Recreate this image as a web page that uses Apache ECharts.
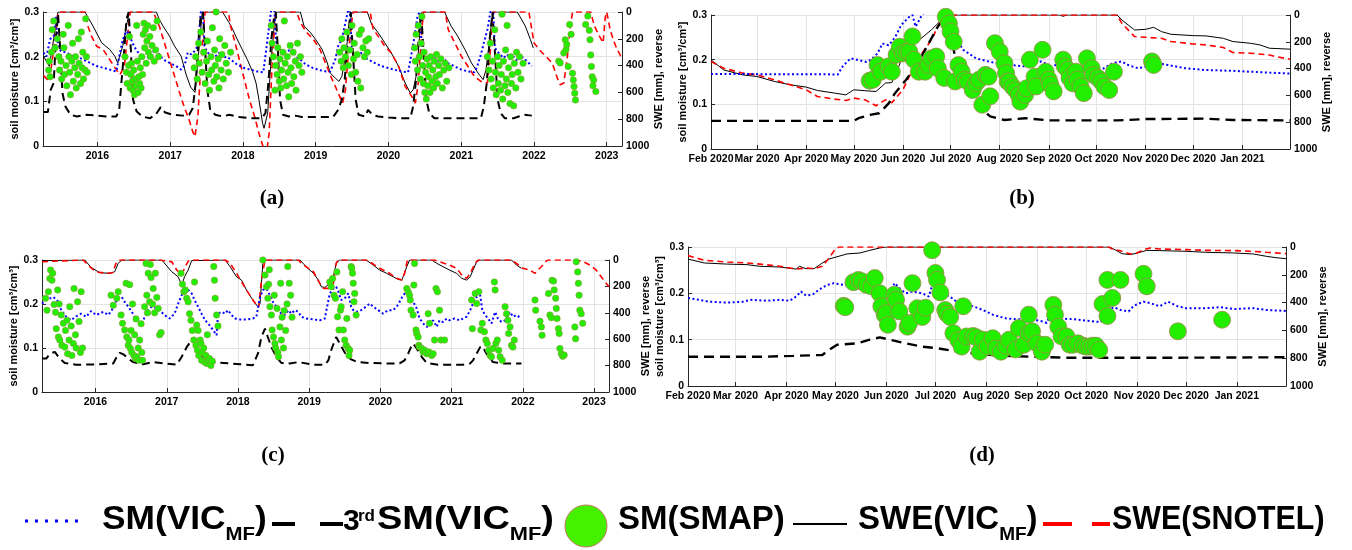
<!DOCTYPE html>
<html>
<head>
<meta charset="utf-8">
<script src="https://cdn.jsdelivr.net/npm/echarts@6/dist/echarts.min.js"></script>
<style>
  html, body { margin: 0; padding: 0; background: #fff; }
  #chart { width: 1352px; height: 550px; }
</style>
</head>
<body>
<div id="chart"></div>
<script>
// ---- data: panels (a) and (c) use decimal years, (b) and (d) use dates ----

// (a)
const sweVicA = [[2015.26,330],[2015.34,405],[2015.4,200],[2015.44,55],[2015.46,0],[2015.83,0],[2015.94,105],[2016.06,230],[2016.17,280],[2016.24,330],[2016.28,380],[2016.35,250],[2016.4,100],[2016.44,0],[2016.81,0],[2016.85,55],[2016.9,105],[2016.99,180],[2017.06,255],[2017.15,330],[2017.22,470],[2017.28,560],[2017.34,600],[2017.4,250],[2017.44,0],[2017.72,0],[2017.81,80],[2017.86,130],[2017.9,180],[2017.99,280],[2018.06,355],[2018.13,443],[2018.18,530],[2018.22,655],[2018.27,830],[2018.29,868],[2018.34,755],[2018.38,405],[2018.43,105],[2018.45,0],[2018.79,0],[2018.84,105],[2018.93,155],[2019.0,205],[2019.09,280],[2019.16,380],[2019.2,455],[2019.27,493],[2019.32,518],[2019.36,480],[2019.41,330],[2019.45,155],[2019.5,0],[2019.71,0],[2019.77,93],[2019.86,155],[2019.95,230],[2020.04,305],[2020.14,405],[2020.23,530],[2020.3,605],[2020.34,580],[2020.39,455],[2020.43,155],[2020.46,0],[2020.77,0],[2020.86,105],[2020.95,180],[2021.05,280],[2021.14,380],[2021.23,455],[2021.3,505],[2021.34,430],[2021.39,205],[2021.43,0],[2021.77,0],[2021.88,105],[2021.95,205],[2021.99,268]];
const sweSnotelA = [[2015.26,475],[2015.34,518],[2015.4,280],[2015.46,0],[2015.84,0],[2015.87,105],[2015.92,180],[2015.99,255],[2016.08,280],[2016.17,355],[2016.26,430],[2016.31,468],[2016.37,405],[2016.42,155],[2016.45,0],[2016.77,0],[2016.81,55],[2016.85,105],[2016.92,230],[2016.99,355],[2017.06,480],[2017.13,605],[2017.19,705],[2017.26,805],[2017.31,893],[2017.34,930],[2017.38,780],[2017.42,405],[2017.46,105],[2017.48,0],[2017.8,0],[2017.83,105],[2017.88,205],[2017.95,355],[2018.02,505],[2018.09,655],[2018.16,780],[2018.22,905],[2018.27,993],[2018.3,1060],[2018.33,1030],[2018.36,905],[2018.4,405],[2018.44,55],[2018.46,0],[2018.74,0],[2018.79,80],[2018.88,155],[2018.97,205],[2019.06,280],[2019.15,400],[2019.2,470],[2019.27,555],[2019.33,630],[2019.37,680],[2019.41,580],[2019.45,305],[2019.5,55],[2019.52,0],[2019.75,0],[2019.79,130],[2019.86,180],[2019.95,255],[2020.04,305],[2020.14,405],[2020.23,555],[2020.32,630],[2020.37,680],[2020.41,530],[2020.45,205],[2020.48,0],[2020.78,0],[2020.82,130],[2020.91,230],[2021.0,330],[2021.09,405],[2021.18,480],[2021.27,518],[2021.36,530],[2021.4,280],[2021.43,0],[2021.93,0],[2022.0,230],[2022.07,280],[2022.16,330],[2022.25,380],[2022.32,493],[2022.36,543],[2022.41,530],[2022.46,330],[2022.5,105],[2022.53,0],[2022.78,0],[2022.83,105],[2022.9,180],[2022.95,230],[2022.98,40],[2023.0,0],[2023.05,140],[2023.12,250],[2023.21,350]];
const smVicA = [[2015.26,0.209],[2015.3,0.2],[2015.35,0.239],[2015.4,0.246],[2015.43,0.29],[2015.46,0.224],[2015.5,0.212],[2015.58,0.209],[2015.67,0.2],[2015.76,0.197],[2015.85,0.19],[2015.99,0.179],[2016.08,0.175],[2016.17,0.171],[2016.26,0.167],[2016.3,0.2],[2016.35,0.239],[2016.4,0.257],[2016.44,0.25],[2016.48,0.231],[2016.53,0.216],[2016.58,0.205],[2016.62,0.197],[2016.67,0.2],[2016.72,0.197],[2016.76,0.209],[2016.81,0.216],[2016.85,0.205],[2016.9,0.194],[2016.99,0.186],[2017.08,0.179],[2017.15,0.171],[2017.2,0.182],[2017.24,0.209],[2017.29,0.205],[2017.33,0.212],[2017.38,0.224],[2017.42,0.3],[2017.45,0.3],[2017.47,0.224],[2017.51,0.209],[2017.56,0.205],[2017.62,0.2],[2017.67,0.209],[2017.72,0.197],[2017.78,0.2],[2017.83,0.194],[2017.92,0.182],[2018.01,0.175],[2018.1,0.171],[2018.19,0.167],[2018.28,0.165],[2018.32,0.216],[2018.36,0.269],[2018.39,0.306],[2018.43,0.31],[2018.46,0.224],[2018.5,0.216],[2018.59,0.212],[2018.68,0.216],[2018.73,0.2],[2018.78,0.194],[2018.87,0.182],[2018.96,0.175],[2019.05,0.17],[2019.14,0.167],[2019.2,0.167],[2019.27,0.194],[2019.31,0.224],[2019.36,0.239],[2019.4,0.269],[2019.44,0.3],[2019.47,0.306],[2019.5,0.209],[2019.54,0.205],[2019.59,0.2],[2019.63,0.209],[2019.68,0.197],[2019.72,0.194],[2019.81,0.186],[2019.9,0.179],[2019.99,0.175],[2020.08,0.171],[2020.17,0.167],[2020.27,0.165],[2020.31,0.2],[2020.36,0.246],[2020.4,0.291],[2020.43,0.3],[2020.46,0.216],[2020.5,0.2],[2020.56,0.194],[2020.63,0.197],[2020.68,0.19],[2020.72,0.197],[2020.77,0.194],[2020.81,0.186],[2020.9,0.179],[2021.0,0.171],[2021.09,0.167],[2021.18,0.165],[2021.22,0.179],[2021.27,0.205],[2021.31,0.231],[2021.36,0.261],[2021.4,0.3],[2021.44,0.3],[2021.46,0.22],[2021.51,0.209],[2021.58,0.197],[2021.63,0.205],[2021.67,0.194],[2021.72,0.2],[2021.77,0.19],[2021.81,0.2],[2021.86,0.197],[2021.9,0.19],[2021.97,0.179]];
const sm3rdA = [[2015.26,0.076],[2015.32,0.076],[2015.36,0.126],[2015.4,0.141],[2015.43,0.239],[2015.46,0.295],[2015.49,0.216],[2015.52,0.119],[2015.56,0.089],[2015.63,0.07],[2015.72,0.066],[2015.85,0.07],[2015.99,0.068],[2016.12,0.066],[2016.26,0.066],[2016.3,0.081],[2016.33,0.141],[2016.37,0.216],[2016.4,0.284],[2016.43,0.3],[2016.46,0.216],[2016.49,0.104],[2016.54,0.077],[2016.62,0.066],[2016.72,0.062],[2016.8,0.07],[2016.87,0.087],[2016.93,0.075],[2017.03,0.07],[2017.17,0.068],[2017.26,0.07],[2017.31,0.085],[2017.35,0.141],[2017.39,0.239],[2017.42,0.291],[2017.45,0.3],[2017.48,0.216],[2017.51,0.126],[2017.55,0.081],[2017.62,0.07],[2017.72,0.066],[2017.81,0.07],[2017.95,0.065],[2018.1,0.062],[2018.26,0.062],[2018.31,0.074],[2018.35,0.141],[2018.39,0.239],[2018.43,0.291],[2018.45,0.3],[2018.48,0.216],[2018.51,0.104],[2018.55,0.07],[2018.63,0.066],[2018.72,0.068],[2018.81,0.065],[2018.99,0.065],[2019.24,0.065],[2019.31,0.081],[2019.36,0.104],[2019.4,0.149],[2019.44,0.239],[2019.48,0.3],[2019.51,0.216],[2019.55,0.104],[2019.59,0.07],[2019.68,0.066],[2019.72,0.081],[2019.78,0.07],[2019.86,0.066],[2020.0,0.064],[2020.18,0.062],[2020.3,0.062],[2020.34,0.089],[2020.38,0.149],[2020.42,0.254],[2020.45,0.3],[2020.48,0.216],[2020.52,0.104],[2020.56,0.074],[2020.63,0.062],[2020.86,0.062],[2021.09,0.062],[2021.27,0.062],[2021.31,0.089],[2021.35,0.141],[2021.39,0.239],[2021.43,0.3],[2021.46,0.216],[2021.5,0.104],[2021.54,0.074],[2021.6,0.062],[2021.72,0.062],[2021.79,0.066],[2021.86,0.07],[2021.97,0.068]];
const smapA = [[2015.33,0.17],[2015.34,0.19],[2015.35,0.155],[2015.37,0.21],[2015.38,0.26],[2015.4,0.28],[2015.42,0.22],[2015.45,0.24],[2015.47,0.2],[2015.48,0.17],[2015.5,0.19],[2015.51,0.15],[2015.53,0.25],[2015.54,0.22],[2015.55,0.16],[2015.57,0.18],[2015.58,0.135],[2015.6,0.27],[2015.61,0.2],[2015.62,0.165],[2015.63,0.115],[2015.65,0.19],[2015.66,0.23],[2015.67,0.145],[2015.69,0.175],[2015.7,0.2],[2015.71,0.13],[2015.73,0.16],[2015.74,0.24],[2015.75,0.185],[2015.77,0.14],[2015.78,0.255],[2015.79,0.175],[2015.8,0.21],[2015.81,0.15],[2015.83,0.17],[2015.84,0.285],[2015.85,0.2],[2015.86,0.165],
  [2016.38,0.2],[2016.4,0.165],[2016.41,0.14],[2016.43,0.18],[2016.44,0.245],[2016.45,0.13],[2016.46,0.16],[2016.47,0.185],[2016.48,0.145],[2016.49,0.125],[2016.5,0.17],[2016.51,0.115],[2016.52,0.15],[2016.53,0.135],[2016.54,0.27],[2016.55,0.19],[2016.56,0.12],[2016.57,0.155],[2016.58,0.14],[2016.59,0.175],[2016.6,0.13],[2016.61,0.2],[2016.62,0.16],[2016.63,0.25],[2016.64,0.275],[2016.65,0.22],[2016.66,0.26],[2016.67,0.185],[2016.68,0.235],[2016.69,0.27],[2016.7,0.21],[2016.72,0.245],[2016.73,0.2],[2016.75,0.225],[2016.77,0.265],[2016.78,0.19],[2016.8,0.215],[2016.82,0.28],[2016.84,0.2],
  [2017.33,0.175],[2017.35,0.2],[2017.37,0.15],[2017.39,0.23],[2017.4,0.185],[2017.42,0.255],[2017.44,0.165],[2017.46,0.21],[2017.48,0.14],[2017.5,0.19],[2017.51,0.235],[2017.53,0.16],[2017.54,0.125],[2017.56,0.2],[2017.57,0.17],[2017.58,0.265],[2017.6,0.145],[2017.61,0.215],[2017.62,0.18],[2017.63,0.3],[2017.64,0.155],[2017.66,0.195],[2017.67,0.13],[2017.68,0.24],[2017.7,0.17],[2017.71,0.205],[2017.73,0.15],[2017.75,0.225],[2017.77,0.185],[2017.8,0.165],[2017.83,0.21],
  [2018.39,0.27],[2018.4,0.23],[2018.42,0.2],[2018.44,0.125],[2018.45,0.18],[2018.47,0.16],[2018.48,0.22],[2018.5,0.145],[2018.51,0.195],[2018.52,0.13],[2018.53,0.17],[2018.55,0.21],[2018.56,0.15],[2018.57,0.28],[2018.58,0.185],[2018.6,0.135],[2018.61,0.2],[2018.62,0.165],[2018.63,0.11],[2018.65,0.225],[2018.66,0.175],[2018.67,0.14],[2018.69,0.21],[2018.7,0.155],[2018.72,0.19],[2018.73,0.125],[2018.75,0.23],[2018.77,0.18],[2018.79,0.2],[2018.81,0.165],
  [2019.33,0.21],[2019.35,0.19],[2019.36,0.24],[2019.38,0.175],[2019.39,0.22],[2019.41,0.2],[2019.43,0.255],[2019.45,0.18],[2019.47,0.215],[2019.49,0.16],[2019.5,0.27],[2019.52,0.195],[2019.53,0.23],[2019.55,0.165],[2019.57,0.205],[2019.58,0.145],[2019.6,0.25],[2019.62,0.13],[2019.63,0.26],[2019.65,0.22],[2019.67,0.2],[2019.69,0.235],[2019.71,0.21],[2019.73,0.24],
  [2020.36,0.22],[2020.37,0.19],[2020.38,0.25],[2020.4,0.17],[2020.41,0.27],[2020.43,0.2],[2020.44,0.15],[2020.45,0.23],[2020.46,0.29],[2020.47,0.18],[2020.48,0.14],[2020.49,0.21],[2020.5,0.12],[2020.51,0.165],[2020.52,0.105],[2020.53,0.195],[2020.54,0.135],[2020.55,0.155],[2020.56,0.18],[2020.57,0.12],[2020.58,0.2],[2020.6,0.145],[2020.61,0.17],[2020.62,0.13],[2020.63,0.19],[2020.65,0.155],[2020.66,0.205],[2020.67,0.14],[2020.69,0.18],[2020.7,0.16],[2020.72,0.195],[2020.74,0.13],[2020.76,0.17],[2020.78,0.185],[2020.8,0.145],[2020.83,0.175],
  [2021.36,0.2],[2021.38,0.17],[2021.4,0.23],[2021.41,0.15],[2021.43,0.19],[2021.44,0.13],[2021.46,0.26],[2021.47,0.165],[2021.48,0.115],[2021.5,0.2],[2021.51,0.14],[2021.52,0.18],[2021.54,0.125],[2021.55,0.16],[2021.56,0.295],[2021.57,0.105],[2021.58,0.19],[2021.6,0.135],[2021.61,0.215],[2021.62,0.15],[2021.63,0.27],[2021.64,0.12],[2021.65,0.175],[2021.67,0.095],[2021.68,0.2],[2021.69,0.14],[2021.7,0.16],[2021.72,0.09],[2021.73,0.185],[2021.75,0.13],[2021.76,0.21],[2021.78,0.165],[2021.8,0.2],[2021.82,0.15],[2021.85,0.185],
  [2022.34,0.19],[2022.36,0.186],[2022.41,0.208],[2022.43,0.238],[2022.44,0.216],[2022.45,0.227],[2022.47,0.178],[2022.49,0.272],[2022.51,0.25],[2022.53,0.163],[2022.54,0.148],[2022.55,0.133],[2022.56,0.118],[2022.57,0.103],
  [2022.71,0.272],[2022.74,0.291],[2022.76,0.259],[2022.77,0.238],[2022.78,0.204],[2022.79,0.178],[2022.8,0.155],[2022.81,0.135],[2022.82,0.148],[2022.85,0.122]];

// (b)
const sweVicB = [['2020-02-01',335],['2020-02-09',410],['2020-02-21',447],['2020-03-01',459],['2020-03-12',496],['2020-03-22',521],['2020-04-01',538],['2020-04-08',563],['2020-04-19',583],['2020-04-26',596],['2020-05-01',558],['2020-05-08',565],['2020-05-15',571],['2020-05-21',508],['2020-05-25',505],['2020-06-01',310],['2020-06-07',220],['2020-06-13',170],['2020-06-19',110],['2020-06-25',40],['2020-07-01',0],['2020-09-08',0],['2020-09-10',10],['2020-09-12',0],['2020-10-14',0],['2020-10-17',37],['2020-10-25',112],['2020-11-01',107],['2020-11-06',92],['2020-11-11',124],['2020-11-17',144],['2020-12-01',154],['2020-12-09',156],['2020-12-20',174],['2020-12-26',198],['2021-01-06',211],['2021-01-12',223],['2021-01-18',248],['2021-01-31',255]];
const sweSnotelB = [['2020-02-01',347],['2020-02-09',397],['2020-02-21',434],['2020-03-01',447],['2020-03-12',484],['2020-03-22',521],['2020-04-01',558],['2020-04-08',608],['2020-04-19',628],['2020-04-26',638],['2020-05-01',620],['2020-05-08',633],['2020-05-15',677],['2020-05-21',633],['2020-05-25',655],['2020-06-01',558],['2020-06-07',410],['2020-06-13',285],['2020-06-19',186],['2020-06-25',37],['2020-07-01',0],['2020-10-14',0],['2020-10-17',62],['2020-10-25',161],['2020-11-01',166],['2020-11-11',174],['2020-11-17',198],['2020-12-01',216],['2020-12-09',223],['2020-12-20',243],['2020-12-26',280],['2021-01-06',285],['2021-01-18',298],['2021-01-22',310],['2021-01-31',330]];
const smVicB = [['2020-02-01',0.168],['2020-04-21',0.167],['2020-04-24',0.185],['2020-04-29',0.203],['2020-05-04',0.199],['2020-05-09',0.195],['2020-05-12',0.2],['2020-05-16',0.214],['2020-05-19',0.236],['2020-05-23',0.232],['2020-05-27',0.25],['2020-05-31',0.278],['2020-06-05',0.296],['2020-06-07',0.3],['2020-06-09',0.274],['2020-06-13',0.3],['2020-06-20',0.33],['2020-06-28',0.34],['2020-07-03',0.27],['2020-07-05',0.244],['2020-07-09',0.222],['2020-07-17',0.203],['2020-07-26',0.195],['2020-08-02',0.19],['2020-08-17',0.185],['2020-08-21',0.192],['2020-08-27',0.196],['2020-09-01',0.188],['2020-09-02',0.181],['2020-09-07',0.192],['2020-09-11',0.177],['2020-09-19',0.185],['2020-09-23',0.181],['2020-10-02',0.173],['2020-10-11',0.192],['2020-10-17',0.196],['2020-10-21',0.188],['2020-10-27',0.181],['2020-11-03',0.185],['2020-11-09',0.192],['2020-11-15',0.188],['2020-11-26',0.181],['2020-12-08',0.177],['2020-12-26',0.175],['2021-01-06',0.173],['2021-01-18',0.171],['2021-01-31',0.169]];
const sm3rdB = [['2020-02-01',0.063],['2020-05-01',0.063],['2020-05-04',0.069],['2020-05-12',0.077],['2020-05-17',0.08],['2020-05-23',0.102],['2020-05-27',0.125],['2020-06-03',0.155],['2020-06-09',0.185],['2020-06-15',0.222],['2020-06-19',0.248],['2020-06-23',0.274],['2020-06-27',0.293],['2020-06-30',0.3],['2020-07-01',0.263],['2020-07-03',0.222],['2020-07-05',0.184],['2020-07-09',0.155],['2020-07-12',0.132],['2020-07-15',0.11],['2020-07-21',0.088],['2020-07-26',0.073],['2020-08-04',0.065],['2020-08-17',0.069],['2020-09-01',0.064],['2020-10-14',0.064],['2020-11-01',0.067],['2020-12-08',0.068],['2020-12-26',0.065],['2021-01-31',0.064]];
const smapB = [['2020-05-11',0.153],['2020-05-13',0.155],['2020-05-16',0.188],['2020-05-18',0.173],['2020-05-23',0.185],['2020-05-25',0.173],['2020-05-28',0.211],['2020-05-30',0.229],['2020-06-01',0.214],['2020-06-03',0.218],['2020-06-05',0.218],['2020-06-07',0.252],['2020-06-08',0.2],['2020-06-11',0.173],['2020-06-15',0.173],['2020-06-17',0.188],['2020-06-19',0.203],['2020-06-22',0.207],['2020-06-23',0.181],['2020-06-27',0.159],['2020-06-28',0.296],['2020-06-30',0.281],['2020-07-01',0.263],['2020-07-03',0.24],['2020-07-04',0.151],['2020-07-06',0.188],['2020-07-08',0.173],['2020-07-10',0.155],['2020-07-12',0.151],['2020-07-15',0.132],['2020-07-17',0.147],['2020-07-19',0.155],['2020-07-21',0.099],['2020-07-23',0.166],['2020-07-25',0.162],['2020-07-26',0.118],['2020-07-29',0.237],['2020-08-01',0.218],['2020-08-04',0.192],['2020-08-05',0.17],['2020-08-06',0.151],['2020-08-07',0.151],['2020-08-09',0.14],['2020-08-11',0.132],['2020-08-13',0.121],['2020-08-14',0.106],['2020-08-17',0.121],['2020-08-18',0.136],['2020-08-20',0.2],['2020-08-23',0.162],['2020-08-24',0.14],['2020-08-28',0.222],['2020-08-30',0.173],['2020-09-01',0.155],['2020-09-02',0.144],['2020-09-04',0.129],['2020-09-10',0.2],['2020-09-11',0.185],['2020-09-13',0.177],['2020-09-14',0.159],['2020-09-16',0.147],['2020-09-18',0.173],['2020-09-19',0.155],['2020-09-21',0.14],['2020-09-23',0.125],['2020-09-25',0.203],['2020-09-28',0.181],['2020-09-29',0.166],['2020-10-02',0.159],['2020-10-04',0.151],['2020-10-06',0.14],['2020-10-09',0.132],['2020-10-12',0.173],['2020-11-05',0.196],['2020-11-06',0.188]];

// (c)
const sweVicC = [[2015.25,5],[2015.27,0],[2015.85,0],[2015.94,56],[2016.06,96],[2016.2,101],[2016.27,89],[2016.32,25],[2016.37,0],[2016.93,0],[2016.95,13],[2017.07,89],[2017.16,127],[2017.21,190],[2017.25,127],[2017.3,76],[2017.35,5],[2017.37,0],[2017.82,0],[2017.89,51],[2017.98,127],[2018.05,152],[2018.12,228],[2018.21,304],[2018.28,354],[2018.31,330],[2018.35,25],[2018.4,0],[2018.87,0],[2018.96,51],[2019.06,101],[2019.13,152],[2019.17,203],[2019.22,208],[2019.29,177],[2019.34,127],[2019.38,25],[2019.43,0],[2019.8,0],[2019.9,38],[2019.99,76],[2020.09,101],[2020.18,127],[2020.25,147],[2020.3,152],[2020.32,127],[2020.37,51],[2020.41,0],[2020.72,0],[2020.79,25],[2020.88,51],[2020.97,76],[2021.07,101],[2021.14,139],[2021.21,152],[2021.26,127],[2021.3,76],[2021.35,13],[2021.4,0],[2021.84,0],[2021.91,38],[2021.98,63]];
const sweSnotelC = [[2015.25,13],[2015.27,0],[2015.83,0],[2015.92,51],[2016.01,89],[2016.15,101],[2016.24,96],[2016.29,25],[2016.33,0],[2016.9,0],[2017.07,13],[2017.14,76],[2017.21,114],[2017.25,60],[2017.3,10],[2017.33,0],[2017.82,0],[2017.89,25],[2017.98,101],[2018.12,228],[2018.26,342],[2018.29,360],[2018.33,152],[2018.38,0],[2018.85,0],[2018.89,25],[2019.06,89],[2019.15,177],[2019.2,215],[2019.27,215],[2019.34,177],[2019.38,25],[2019.41,0],[2019.8,0],[2019.85,13],[2019.99,63],[2020.13,101],[2020.23,139],[2020.3,152],[2020.34,101],[2020.38,0],[2020.76,0],[2020.83,13],[2020.97,38],[2021.07,63],[2021.16,127],[2021.21,139],[2021.26,101],[2021.33,25],[2021.37,0],[2021.84,0],[2021.91,25],[2022.0,63],[2022.1,76],[2022.17,101],[2022.21,76],[2022.26,51],[2022.32,13],[2022.35,0],[2022.75,0],[2022.85,13],[2022.94,38],[2023.03,76],[2023.1,127],[2023.17,177],[2023.21,203]];
const smVicC = [[2015.25,0.201],[2015.31,0.209],[2015.41,0.216],[2015.48,0.205],[2015.52,0.186],[2015.59,0.171],[2015.66,0.163],[2015.73,0.172],[2015.8,0.178],[2015.87,0.171],[2015.94,0.184],[2016.01,0.175],[2016.11,0.182],[2016.18,0.175],[2016.23,0.186],[2016.27,0.201],[2016.32,0.213],[2016.37,0.216],[2016.41,0.205],[2016.46,0.194],[2016.51,0.182],[2016.55,0.171],[2016.6,0.163],[2016.65,0.152],[2016.69,0.171],[2016.74,0.186],[2016.79,0.194],[2016.86,0.19],[2016.9,0.186],[2016.95,0.178],[2017.0,0.171],[2017.04,0.167],[2017.11,0.178],[2017.16,0.201],[2017.21,0.22],[2017.25,0.228],[2017.3,0.232],[2017.35,0.224],[2017.39,0.209],[2017.44,0.194],[2017.49,0.178],[2017.54,0.163],[2017.58,0.156],[2017.65,0.141],[2017.7,0.129],[2017.72,0.178],[2017.77,0.182],[2017.82,0.178],[2017.86,0.186],[2017.91,0.175],[2017.96,0.167],[2018.03,0.165],[2018.12,0.165],[2018.21,0.167],[2018.26,0.171],[2018.3,0.209],[2018.35,0.232],[2018.4,0.235],[2018.45,0.22],[2018.49,0.205],[2018.54,0.194],[2018.61,0.178],[2018.66,0.175],[2018.71,0.186],[2018.75,0.178],[2018.8,0.186],[2018.85,0.182],[2018.89,0.171],[2018.96,0.167],[2019.06,0.165],[2019.15,0.163],[2019.22,0.167],[2019.29,0.224],[2019.34,0.235],[2019.38,0.239],[2019.41,0.228],[2019.45,0.209],[2019.5,0.213],[2019.55,0.224],[2019.59,0.194],[2019.62,0.186],[2019.66,0.182],[2019.73,0.186],[2019.8,0.194],[2019.85,0.201],[2019.9,0.194],[2019.97,0.186],[2020.04,0.178],[2020.11,0.186],[2020.18,0.186],[2020.23,0.194],[2020.27,0.205],[2020.32,0.22],[2020.37,0.228],[2020.41,0.213],[2020.46,0.205],[2020.51,0.19],[2020.55,0.167],[2020.6,0.156],[2020.65,0.148],[2020.69,0.152],[2020.74,0.163],[2020.79,0.148],[2020.83,0.163],[2020.88,0.159],[2020.93,0.167],[2020.97,0.163],[2021.04,0.167],[2021.11,0.163],[2021.16,0.167],[2021.21,0.171],[2021.26,0.186],[2021.3,0.201],[2021.35,0.216],[2021.4,0.22],[2021.43,0.186],[2021.47,0.175],[2021.51,0.167],[2021.56,0.156],[2021.61,0.182],[2021.65,0.167],[2021.7,0.159],[2021.75,0.163],[2021.82,0.182],[2021.86,0.171],[2021.91,0.175],[2021.98,0.167]];
const sm3rdC = [[2015.25,0.076],[2015.31,0.076],[2015.36,0.087],[2015.43,0.091],[2015.5,0.076],[2015.57,0.066],[2015.73,0.062],[2016.06,0.063],[2016.25,0.065],[2016.3,0.08],[2016.34,0.089],[2016.39,0.086],[2016.46,0.076],[2016.53,0.068],[2016.67,0.063],[2016.81,0.068],[2016.95,0.065],[2017.14,0.062],[2017.21,0.08],[2017.28,0.102],[2017.35,0.118],[2017.39,0.11],[2017.46,0.087],[2017.54,0.072],[2017.65,0.067],[2017.8,0.066],[2018.03,0.063],[2018.21,0.061],[2018.28,0.087],[2018.33,0.125],[2018.38,0.144],[2018.42,0.125],[2018.47,0.102],[2018.54,0.08],[2018.61,0.066],[2018.73,0.065],[2018.85,0.068],[2019.06,0.062],[2019.22,0.062],[2019.27,0.072],[2019.32,0.1],[2019.38,0.125],[2019.43,0.11],[2019.52,0.084],[2019.59,0.074],[2019.68,0.068],[2019.85,0.066],[2020.04,0.065],[2020.27,0.065],[2020.34,0.072],[2020.39,0.087],[2020.43,0.102],[2020.46,0.11],[2020.51,0.099],[2020.58,0.08],[2020.65,0.066],[2020.81,0.062],[2021.16,0.062],[2021.26,0.065],[2021.3,0.072],[2021.35,0.087],[2021.4,0.102],[2021.43,0.104],[2021.49,0.087],[2021.58,0.068],[2021.7,0.065],[2021.98,0.065]];
const smapC = [[2015.3,0.213],[2015.32,0.186],[2015.34,0.228],[2015.36,0.258],[2015.37,0.277],[2015.39,0.254],[2015.4,0.27],[2015.42,0.199],[2015.44,0.181],[2015.45,0.144],[2015.47,0.232],[2015.48,0.125],[2015.49,0.2],[2015.5,0.118],[2015.52,0.175],[2015.53,0.106],[2015.55,0.156],[2015.57,0.102],[2015.58,0.14],[2015.6,0.163],[2015.61,0.087],[2015.63,0.118],[2015.64,0.194],[2015.66,0.15],[2015.67,0.083],[2015.69,0.11],[2015.7,0.235],[2015.72,0.13],[2015.73,0.1],[2015.75,0.205],[2015.77,0.16],[2015.79,0.09],[2015.8,0.228],[2015.82,0.1],
  [2016.22,0.22],[2016.25,0.197],[2016.3,0.213],[2016.32,0.228],[2016.36,0.175],[2016.38,0.156],[2016.41,0.141],[2016.43,0.247],[2016.44,0.125],[2016.46,0.106],[2016.47,0.118],[2016.48,0.244],[2016.49,0.099],[2016.5,0.14],[2016.51,0.09],[2016.52,0.2],[2016.54,0.083],[2016.55,0.13],[2016.56,0.076],[2016.57,0.166],[2016.58,0.08],[2016.6,0.1],[2016.61,0.072],[2016.62,0.118],[2016.64,0.155],[2016.65,0.09],[2016.66,0.072],[2016.69,0.194],[2016.71,0.292],[2016.72,0.22],[2016.73,0.18],[2016.74,0.27],[2016.76,0.205],[2016.77,0.29],[2016.78,0.26],[2016.8,0.2],[2016.81,0.235],[2016.83,0.18],[2016.84,0.27],[2016.86,0.215],[2016.88,0.19],[2016.9,0.13],[2016.92,0.135],
  [2017.2,0.27],[2017.22,0.245],[2017.24,0.228],[2017.26,0.232],[2017.28,0.213],[2017.3,0.205],[2017.32,0.178],[2017.34,0.163],[2017.36,0.14],[2017.38,0.118],[2017.39,0.25],[2017.41,0.106],[2017.42,0.152],[2017.43,0.095],[2017.44,0.14],[2017.45,0.083],[2017.47,0.118],[2017.48,0.11],[2017.49,0.072],[2017.5,0.09],[2017.52,0.1],[2017.53,0.068],[2017.55,0.083],[2017.56,0.065],[2017.57,0.13],[2017.58,0.072],[2017.6,0.076],[2017.62,0.06],[2017.64,0.07],[2017.66,0.285],[2017.67,0.254],[2017.68,0.213],[2017.7,0.175],[2017.72,0.15],
  [2018.35,0.3],[2018.38,0.266],[2018.4,0.239],[2018.42,0.213],[2018.43,0.245],[2018.44,0.278],[2018.45,0.194],[2018.47,0.175],[2018.48,0.141],[2018.5,0.125],[2018.51,0.22],[2018.52,0.11],[2018.53,0.1],[2018.55,0.19],[2018.56,0.09],[2018.57,0.08],[2018.59,0.148],[2018.6,0.247],[2018.61,0.118],[2018.62,0.17],[2018.64,0.1],[2018.65,0.185],[2018.67,0.14],[2018.69,0.2],[2018.7,0.285],[2018.72,0.247],[2018.74,0.22],[2018.76,0.17],
  [2019.29,0.25],[2019.31,0.239],[2019.33,0.258],[2019.35,0.22],[2019.37,0.213],[2019.39,0.273],[2019.4,0.171],[2019.42,0.141],[2019.44,0.186],[2019.45,0.194],[2019.47,0.228],[2019.48,0.141],[2019.5,0.118],[2019.52,0.106],[2019.53,0.167],[2019.55,0.099],[2019.56,0.083],[2019.57,0.095],[2019.59,0.285],[2019.6,0.281],[2019.61,0.27],[2019.62,0.247],[2019.63,0.205],[2019.64,0.224],[2019.66,0.175],
  [2020.37,0.235],[2020.39,0.228],[2020.41,0.22],[2020.42,0.209],[2020.43,0.186],[2020.46,0.175],[2020.47,0.243],[2020.48,0.292],[2020.5,0.141],[2020.51,0.133],[2020.53,0.125],[2020.54,0.106],[2020.55,0.102],[2020.58,0.099],[2020.6,0.091],[2020.62,0.095],[2020.65,0.087],[2020.67,0.178],[2020.68,0.091],[2020.69,0.156],[2020.72,0.083],[2020.74,0.087],[2020.76,0.118],[2020.78,0.235],[2020.8,0.228],[2020.83,0.186],[2020.85,0.118],[2020.9,0.118],
  [2021.28,0.209],[2021.29,0.144],[2021.33,0.224],[2021.35,0.201],[2021.38,0.228],[2021.41,0.141],[2021.43,0.156],[2021.46,0.137],[2021.48,0.118],[2021.5,0.11],[2021.52,0.095],[2021.54,0.083],[2021.56,0.08],[2021.58,0.099],[2021.6,0.25],[2021.61,0.232],[2021.62,0.11],[2021.64,0.118],[2021.66,0.095],[2021.68,0.08],[2021.71,0.072],[2021.75,0.194],[2021.77,0.178],[2021.79,0.163],[2021.8,0.133],[2021.82,0.148],[2021.84,0.106],[2021.86,0.102],[2021.88,0.118],
  [2022.17,0.209],[2022.18,0.186],[2022.24,0.161],[2022.26,0.148],[2022.27,0.129],[2022.36,0.224],[2022.38,0.175],[2022.4,0.169],[2022.41,0.254],[2022.43,0.252],[2022.44,0.232],[2022.46,0.213],[2022.47,0.19],[2022.48,0.167],[2022.5,0.144],[2022.51,0.133],[2022.52,0.099],[2022.54,0.087],[2022.56,0.081],[2022.58,0.084],
  [2022.73,0.148],[2022.74,0.121],[2022.75,0.296],[2022.77,0.273],[2022.78,0.247],[2022.79,0.22],[2022.8,0.186],[2022.82,0.178],[2022.84,0.156]];

// (d)
const sweVicD = [['2020-02-01',87],['2020-02-11',115],['2020-02-25',123],['2020-03-08',127],['2020-03-16',139],['2020-03-28',144],['2020-04-07',159],['2020-04-09',139],['2020-04-13',156],['2020-04-18',156],['2020-04-23',115],['2020-04-27',87],['2020-05-08',50],['2020-05-16',43],['2020-05-22',24],['2020-05-28',7],['2020-06-01',0],['2020-10-14',0],['2020-10-17',10],['2020-10-23',48],['2020-10-28',55],['2020-11-03',38],['2020-11-07',24],['2020-11-15',26],['2020-12-01',31],['2020-12-13',38],['2020-12-30',43],['2021-01-11',50],['2021-01-19',67],['2021-01-25',77],['2021-01-31',84]];
const sweSnotelD = [['2020-02-01',62],['2020-02-11',96],['2020-02-25',108],['2020-03-08',115],['2020-03-16',123],['2020-03-28',139],['2020-04-07',159],['2020-04-13',151],['2020-04-18',156],['2020-04-23',139],['2020-04-27',80],['2020-04-30',30],['2020-05-03',0],['2020-10-15',0],['2020-10-17',14],['2020-10-23',31],['2020-10-28',50],['2020-11-01',43],['2020-11-05',19],['2020-11-09',7],['2020-11-15',14],['2020-12-01',19],['2020-12-13',24],['2020-12-30',26],['2021-01-11',31],['2021-01-19',38],['2021-01-31',48]];
const smVicD = [['2020-02-01',0.19],['2020-02-14',0.182],['2020-02-25',0.18],['2020-03-06',0.182],['2020-03-10',0.186],['2020-03-20',0.184],['2020-03-28',0.186],['2020-04-03',0.184],['2020-04-07',0.193],['2020-04-10',0.204],['2020-04-13',0.195],['2020-04-17',0.197],['2020-04-21',0.208],['2020-04-26',0.218],['2020-04-30',0.222],['2020-05-06',0.218],['2020-05-12',0.216],['2020-05-16',0.222],['2020-05-24',0.215],['2020-05-28',0.211],['2020-06-01',0.208],['2020-06-04',0.204],['2020-06-06',0.222],['2020-06-10',0.208],['2020-06-13',0.2],['2020-06-17',0.204],['2020-06-23',0.2],['2020-06-27',0.193],['2020-06-29',0.218],['2020-07-03',0.208],['2020-07-07',0.197],['2020-07-11',0.19],['2020-07-15',0.179],['2020-07-24',0.172],['2020-07-30',0.164],['2020-08-05',0.154],['2020-08-13',0.146],['2020-08-20',0.144],['2020-08-30',0.143],['2020-09-05',0.139],['2020-09-07',0.136],['2020-09-09',0.154],['2020-09-13',0.146],['2020-09-24',0.144],['2020-10-01',0.141],['2020-10-10',0.138],['2020-10-14',0.164],['2020-10-18',0.17],['2020-10-22',0.164],['2020-10-27',0.161],['2020-10-30',0.173],['2020-11-05',0.182],['2020-11-09',0.179],['2020-11-15',0.172],['2020-11-20',0.182],['2020-11-26',0.172],['2020-12-01',0.168],['2020-12-13',0.168],['2020-12-22',0.17],['2020-12-30',0.166],['2021-01-11',0.168],['2021-01-19',0.164],['2021-01-31',0.162]];
const sm3rdD = [['2020-02-01',0.063],['2020-03-16',0.063],['2020-04-05',0.065],['2020-04-23',0.067],['2020-04-27',0.078],['2020-05-02',0.089],['2020-05-14',0.092],['2020-05-22',0.1],['2020-05-28',0.105],['2020-06-03',0.1],['2020-06-13',0.092],['2020-06-23',0.085],['2020-07-03',0.081],['2020-07-15',0.074],['2020-07-28',0.069],['2020-08-13',0.065],['2020-08-30',0.063],['2020-09-19',0.061],['2020-11-20',0.061],['2021-01-31',0.062]];
const smapD = [['2020-05-06',0.173],['2020-05-07',0.17],['2020-05-12',0.224],['2020-05-15',0.229],['2020-05-17',0.226],['2020-05-20',0.218],['2020-05-23',0.215],['2020-05-25',0.233],['2020-05-28',0.2],['2020-05-29',0.172],['2020-05-31',0.154],['2020-06-01',0.157],['2020-06-02',0.132],['2020-06-06',0.197],['2020-06-07',0.186],['2020-06-09',0.161],['2020-06-14',0.128],['2020-06-15',0.136],['2020-06-17',0.222],['2020-06-20',0.168],['2020-06-23',0.149],['2020-06-25',0.169],['2020-06-29',0.293],['2020-07-01',0.244],['2020-07-02',0.229],['2020-07-04',0.202],['2020-07-07',0.164],['2020-07-08',0.156],['2020-07-10',0.149],['2020-07-12',0.114],['2020-07-15',0.099],['2020-07-17',0.085],['2020-07-18',0.172],['2020-07-20',0.107],['2020-07-24',0.108],['2020-07-26',0.105],['2020-07-28',0.074],['2020-07-30',0.1],['2020-08-02',0.085],['2020-08-05',0.103],['2020-08-07',0.081],['2020-08-10',0.074],['2020-08-13',0.087],['2020-08-15',0.1],['2020-08-19',0.079],['2020-08-21',0.125],['2020-08-24',0.089],['2020-08-27',0.154],['2020-08-27',0.114],['2020-08-29',0.118],['2020-09-01',0.092],['2020-09-04',0.074],['2020-09-06',0.089],['2020-09-11',0.175],['2020-09-12',0.154],['2020-09-14',0.128],['2020-09-16',0.107],['2020-09-19',0.107],['2020-09-21',0.089],['2020-09-23',0.089],['2020-09-26',0.092],['2020-09-29',0.087],['2020-10-01',0.085],['2020-10-03',0.085],['2020-10-05',0.087],['2020-10-07',0.087],['2020-10-09',0.078],['2020-10-11',0.177],['2020-10-14',0.151],['2020-10-14',0.229],['2020-10-17',0.19],['2020-10-22',0.229],['2020-11-05',0.242],['2020-11-07',0.215],['2020-11-26',0.118],['2020-12-23',0.143]];

const monthNames = ['Jan','Feb','Mar','Apr','May','Jun','Jul','Aug','Sep','Oct','Nov','Dec'];

// ---- helpers ----
const FONT = '"Liberation Sans", Arial, Helvetica, sans-serif';
const AXIS_COLOR = '#262626';
const GRID_COLOR = '#e4e4e4';

// decimal year -> UTC timestamp
const yr = y => {
  const Y = Math.floor(y);
  const a = Date.UTC(Y, 0, 1), b = Date.UTC(Y + 1, 0, 1);
  return a + (y - Y) * (b - a);
};
const day = s => Date.parse(s + 'T00:00:00Z');
const fromYear = arr => arr.map(p => [yr(p[0]), p[1]]);
const fromDate = arr => arr.map(p => [day(p[0]), p[1]]);

const yearLabel = v => {
  const d = new Date(v);
  if (d.getUTCMonth() !== 0 || d.getUTCDate() !== 1 || d.getUTCHours() !== 0) return '';
  return String(d.getUTCFullYear());
};
const monthLabel = v => {
  const d = new Date(v);
  if (d.getUTCDate() !== 1 || d.getUTCHours() !== 0) return '';
  return monthNames[d.getUTCMonth()] + ' ' + d.getUTCFullYear();
};

const grids = [
  { left: 43, top: 12, width: 579, height: 134 },   // a
  { left: 711, top: 15, width: 579, height: 134 },  // b
  { left: 42, top: 260, width: 567, height: 132 },  // c
  { left: 688, top: 247, width: 598, height: 139 }  // d
];

const DAY = 86400000;
function xAxis(i, min, max, yearly) {
  return {
    type: 'time', gridIndex: i, min, max,
    minInterval: yearly ? 300 * DAY : 25 * DAY,
    maxInterval: yearly ? 300 * DAY : 25 * DAY,
    axisLine: { lineStyle: { color: AXIS_COLOR, width: 1 } },
    axisTick: { inside: true, length: 4, lineStyle: { color: AXIS_COLOR } },
    axisLabel: {
      formatter: yearly ? yearLabel : monthLabel,
      color: '#000', fontWeight: 'bold', fontSize: 10.5, fontFamily: FONT, margin: 5,
      hideOverlap: false
    },
    splitLine: { show: true, lineStyle: { color: GRID_COLOR, width: 1 } }
  };
}
function smAxis(i, gap) {
  return {
    type: 'value', gridIndex: i, position: 'left', min: 0, max: 0.3, interval: 0.1,
    name: 'soil moisture [cm³/cm³]', nameLocation: 'middle', nameGap: gap, nameRotate: 90,
    nameTextStyle: { color: '#000', fontWeight: 'bold', fontSize: 11, fontFamily: FONT },
    axisLine: { show: true, lineStyle: { color: AXIS_COLOR } },
    axisTick: { show: true, inside: true, length: 4, lineStyle: { color: AXIS_COLOR } },
    axisLabel: {
      formatter: v => (v === 0 ? '0' : v.toFixed(1)),
      color: '#000', fontWeight: 'bold', fontSize: 10.5, fontFamily: FONT, margin: 4
    },
    splitLine: { show: true, lineStyle: { color: GRID_COLOR } }
  };
}
function sweAxis(i, gap) {
  return {
    type: 'value', gridIndex: i, position: 'right', min: 0, max: 1000, interval: 200, inverse: true,
    name: 'SWE [mm], reverse', nameLocation: 'middle', nameGap: gap, nameRotate: 90,
    nameTextStyle: { color: '#000', fontWeight: 'bold', fontSize: 11, fontFamily: FONT },
    axisLine: { show: true, lineStyle: { color: AXIS_COLOR } },
    axisTick: { show: true, inside: true, length: 4, lineStyle: { color: AXIS_COLOR } },
    axisLabel: {
      formatter: v => String(v),
      color: '#000', fontWeight: 'bold', fontSize: 10.5, fontFamily: FONT, margin: 4
    },
    splitLine: { show: false }
  };
}

function panelSeries(i, conv, sweVic, sweSnotel, smVic, sm3rd, smap, big) {
  const base = { xAxisIndex: i, showSymbol: false, silent: true, animation: false };
  return [
    Object.assign({ type: 'line', yAxisIndex: 2 * i + 1, data: conv(sweVic),
      lineStyle: { color: '#000', width: 1 } }, base),
    Object.assign({ type: 'line', yAxisIndex: 2 * i + 1, data: conv(sweSnotel),
      lineStyle: { color: '#ff0000', width: 1.6, type: [6, 4] } }, base),
    Object.assign({ type: 'line', yAxisIndex: 2 * i, data: conv(smVic),
      lineStyle: { color: '#0000ff', width: 2, type: [2, 2.5] } }, base),
    Object.assign({ type: 'line', yAxisIndex: 2 * i, data: conv(sm3rd),
      lineStyle: { color: '#000', width: big ? 2.4 : 2, type: big ? [10, 6] : [8, 5] } }, base),
    {
      type: 'scatter', xAxisIndex: i, yAxisIndex: 2 * i, data: conv(smap), silent: true,
      symbolSize: big ? 17 : 6.5, z: 5,
      itemStyle: { color: '#22ee00', borderColor: '#9c8a4a', borderWidth: big ? 0.8 : 0.5, opacity: 1 }
    }
  ];
}

// ---- legend and panel letters as graphics ----
const RICH = {
  m: { fontSize: 33, fontWeight: 'bold', fontFamily: FONT, fill: '#000', lineHeight: 48 },
  s: { fontSize: 19, fontWeight: 'bold', fontFamily: FONT, fill: '#000', lineHeight: 20, verticalAlign: 'bottom' }
};
const legendText = (x, text, sx) => ({
  type: 'text', x, y: 520, scaleX: sx || 1,
  style: { text, verticalAlign: 'middle', align: 'left', rich: RICH }
});
const plainText = (x, y, text, size) => ({
  type: 'text', x, y,
  style: { text, fontSize: size, fontWeight: 'bold', fontFamily: FONT, fill: '#000',
    align: 'left', verticalAlign: 'middle' }
});
const seg = (x1, x2, y, color, w, dash) => ({
  type: 'line', shape: { x1, y1: y, x2, y2: y },
  style: { stroke: color, lineWidth: w, lineDash: dash || null }
});
const letter = (x, y, t) => ({
  type: 'text', x, y,
  style: { text: t, fontSize: 21, fontWeight: 'bold', fontFamily: '"Liberation Serif", "DejaVu Serif", serif',
    fill: '#000', align: 'center', verticalAlign: 'middle' }
});

const graphic = [
  letter(272, 199, '(a)'), letter(1022, 199, '(b)'),
  letter(273, 456, '(c)'), letter(982, 456, '(d)'),
  seg(25, 84, 521, '#0000ff', 3, [3, 7]),
  legendText(102, '{m|SM(VIC}{s|MF}{m|)}', 1.07),
  seg(272, 295, 524, '#000', 4), seg(320, 343, 524, '#000', 4),
  plainText(343, 522, '3', 30),
  plainText(358, 516, 'rd', 17),
  legendText(377, '{m|SM(VIC}{s|MF}{m|)}', 1.15),
  { type: 'circle', shape: { cx: 586, cy: 526, r: 21 }, style: { fill: '#44f200', stroke: '#c07a5a', lineWidth: 1 } },
  legendText(618, '{m|SM(SMAP)}'),
  seg(793, 847, 524, '#000', 2),
  legendText(858, '{m|SWE(VIC}{s|MF}{m|)}'),
  seg(1043, 1072, 524, '#ff0000', 4), seg(1092, 1110, 524, '#ff0000', 4),
  legendText(1112, '{m|SWE(SNOTEL)}', 0.92)
];

const chart = echarts.init(document.getElementById('chart'), null, { renderer: 'canvas' });
const option = {
  animation: false,
  useUTC: true,
  backgroundColor: '#fff',
  grid: grids,
  xAxis: [
    xAxis(0, yr(2015.253), yr(2023.21), true),
    xAxis(1, day('2020-02-01'), day('2021-01-31'), false),
    xAxis(2, yr(2015.25), yr(2023.21), true),
    xAxis(3, day('2020-02-01'), day('2021-01-31'), false)
  ],
  yAxis: [
    smAxis(0, 17), sweAxis(0, 30),
    smAxis(1, 19), sweAxis(1, 30),
    smAxis(2, 15), sweAxis(2, 30),
    smAxis(3, 19), sweAxis(3, 30)
  ],
  series: [].concat(
    panelSeries(0, fromYear, sweVicA, sweSnotelA, smVicA, sm3rdA, smapA, false),
    panelSeries(1, fromDate, sweVicB, sweSnotelB, smVicB, sm3rdB, smapB, true),
    panelSeries(2, fromYear, sweVicC, sweSnotelC, smVicC, sm3rdC, smapC, false),
    panelSeries(3, fromDate, sweVicD, sweSnotelD, smVicD, sm3rdD, smapD, true)
  ),
  graphic
};
chart.setOption(option);
</script>
</body>
</html>
